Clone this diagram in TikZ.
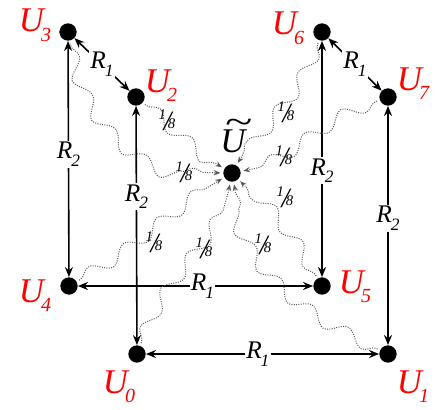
\documentclass[tikz,border=0pt]{standalone}
\usepackage{fontspec}
\setmainfont{Liberation Serif}
\usetikzlibrary{arrows.meta,decorations.pathmorphing}

% labels of the eight states and of the rates
\newcommand\ulab[1]{{\fontsize{26}{26}\selectfont\itshape U\kern-.08em\raisebox{-.28em}{\fontsize{15}{15}\selectfont #1}}}
\newcommand\rsub[1]{{\fontsize{19}{19}\selectfont\itshape R\kern-.04em\raisebox{-.3em}{\fontsize{13}{13}\selectfont #1}}}
\newcommand\eighth{{\fontsize{11}{11}\selectfont\itshape\raisebox{7.2pt}{1}\kern-1.8pt\raisebox{-1pt}{\fontsize{21}{21}\selectfont /}\kern-2.6pt 8}}
\newcommand\ubar{{\fontsize{26}{26}\selectfont\itshape\rlap{\kern.12em\raisebox{.52em}{\scalebox{1.45}[1]{\textasciitilde}}}U}}

\begin{document}
\begin{tikzpicture}[x=0.75pt, y=0.75pt,
  dot/.style={circle, fill=black, inner sep=0pt, minimum size=13pt},
  ulabel/.style={text=red, anchor=base, inner sep=0pt},
  link/.style={{Stealth[length=7.5pt,width=6pt]}-{Stealth[length=7.5pt,width=6pt]}, line width=1.2pt},
  rlab/.style={fill=white, inner sep=1pt},
  wavy/.style={densely dotted, black!65, line width=0.75pt,
    -{Stealth[length=5pt,width=4pt]}, shorten <=2pt, shorten >=2pt,
    decorate, decoration={snake, amplitude=5pt, segment length=32pt, pre length=3pt, post length=7pt}},
  frac/.style={inner sep=0pt}]
  \useasboundingbox (0,0) rectangle (435,-410);

  % states
  \node[dot] (u3) at (68,-32) {};
  \node[dot] (u2) at (136,-97) {};
  \node[dot] (u6) at (322,-32) {};
  \node[dot] (u7) at (388,-97) {};
  \node[dot] (u4) at (69,-286) {};
  \node[dot] (u5) at (322,-286) {};
  \node[dot] (u0) at (137,-354) {};
  \node[dot] (u1) at (388,-354) {};
  \node[dot] (c) at (232,-173) {};

  \node[ulabel] (l3) at (35,-32) {\ulab{3}};
  \node[ulabel] (l2) at (161,-92) {\ulab{2}};
  \node[ulabel] (l6) at (288,-35) {\ulab{6}};
  \node[ulabel] (l7) at (413,-90) {\ulab{7}};
  \node[ulabel] (l4) at (35,-302) {\ulab{4}};
  \node[ulabel] (l5) at (355,-293) {\ulab{5}};
  \node[ulabel] (l0) at (119,-393) {\ulab{0}};
  \node[ulabel] (l1) at (413,-393) {\ulab{1}};
  \node[anchor=base, inner sep=0pt] (lc) at (233,-152) {\ubar};

  % rates
  \draw[link] (u3) -- node[rlab] {\rsub{1}} (u2);
  \draw[link] (u6) -- node[rlab] {\rsub{1}} (u7);
  \draw[link] (u3) -- node[rlab, pos=.48] {\rsub{2}} (u4);
  \draw[link] (u2) -- node[rlab, pos=.38] {\rsub{2}} (u0);
  \draw[link] (u6) -- node[rlab, pos=.55] {\rsub{2}} (u5);
  \draw[link] (u7) -- node[rlab, pos=.47] {\rsub{2}} (u1);
  \draw[link] (u4) -- node[rlab, pos=.53] {\rsub{1}} (u5);
  \draw[link] (u0) -- node[rlab, pos=.48] {\rsub{1}} (u1);

  % jumps to the mean
  \draw[wavy] (u3) to[out=-80, in=180] (c);
  \draw[wavy] (u2) to[out=-40, in=150] (c);
  \draw[wavy] (u6) to[out=-110, in=60] (c);
  \draw[wavy] (u7) to[out=-160, in=10] (c);
  \draw[wavy] (u5) to[out=120, in=-45] (c);
  \draw[wavy] (u1) to[out=155, in=-80] (c);
  \draw[wavy] (u0) to[out=70, in=-100] (c);
  \draw[wavy] (u4) to[out=30, in=-150] (c);

  \node[frac] (f3) at (184,-172) {\eighth};
  \node[frac] (f2) at (167,-120) {\eighth};
  \node[frac] (f6) at (286,-112) {\eighth};
  \node[frac] (f7) at (284,-156) {\eighth};
  \node[frac] (f5) at (285,-197) {\eighth};
  \node[frac] (f1) at (263,-244) {\eighth};
  \node[frac] (f0) at (204,-248) {\eighth};
  \node[frac] (f4) at (154,-242) {\eighth};
\end{tikzpicture}
\end{document}
